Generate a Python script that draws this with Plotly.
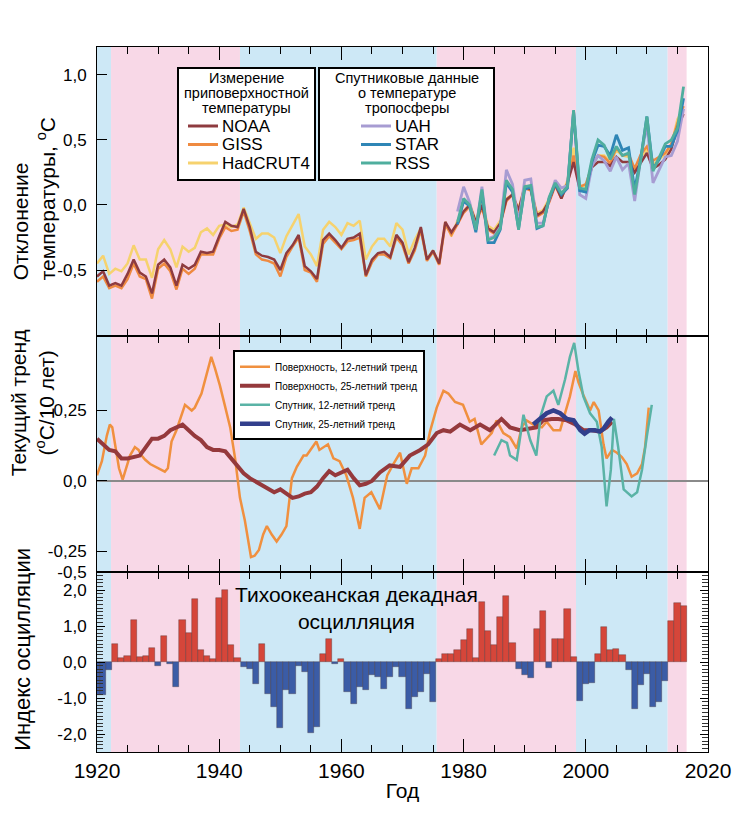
import plotly.graph_objects as go
from plotly.subplots import make_subplots

# ---------------- data ----------------
years = list(range(1920, 2017))
noaa = [-0.55, -0.51, -0.62, -0.60, -0.62, -0.53, -0.42, -0.52, -0.55, -0.68,
        -0.46, -0.42, -0.48, -0.62, -0.46, -0.49, -0.46, -0.36, -0.37, -0.36,
        -0.24, -0.13, -0.16, -0.17, -0.03, -0.17, -0.36, -0.39, -0.40, -0.42,
        -0.50, -0.37, -0.31, -0.23, -0.47, -0.51, -0.57, -0.27, -0.22, -0.27,
        -0.33, -0.26, -0.25, -0.22, -0.54, -0.42, -0.37, -0.36, -0.40, -0.23,
        -0.29, -0.44, -0.33, -0.17, -0.42, -0.35, -0.45, -0.13, -0.21, -0.14,
        -0.05, 0.00, -0.13, 0.00, -0.18, -0.21, -0.14, 0.04, 0.08, -0.04,
        0.14, 0.12, -0.08, -0.05, 0.03, 0.16, 0.05, 0.17, 0.33, 0.12,
        0.12, 0.29, 0.33, 0.33, 0.30, 0.37, 0.33, 0.33, 0.25, 0.33,
        0.40, 0.28, 0.31, 0.35, 0.43, 0.60, 0.70]
giss = [-0.59, -0.55, -0.64, -0.62, -0.64, -0.57, -0.45, -0.55, -0.57, -0.72,
        -0.49, -0.45, -0.51, -0.65, -0.49, -0.53, -0.49, -0.38, -0.38, -0.38,
        -0.26, -0.17, -0.20, -0.19, -0.05, -0.20, -0.38, -0.42, -0.43, -0.45,
        -0.55, -0.40, -0.32, -0.25, -0.50, -0.52, -0.59, -0.30, -0.24, -0.29,
        -0.34, -0.28, -0.27, -0.25, -0.55, -0.44, -0.38, -0.38, -0.41, -0.25,
        -0.31, -0.45, -0.35, -0.19, -0.43, -0.36, -0.46, -0.15, -0.23, -0.15,
        -0.06, -0.01, -0.14, -0.02, -0.19, -0.22, -0.15, 0.03, 0.08, -0.06,
        0.13, 0.11, -0.09, -0.06, 0.02, 0.15, 0.05, 0.16, 0.38, 0.14,
        0.16, 0.30, 0.38, 0.37, 0.32, 0.44, 0.38, 0.39, 0.28, 0.39,
        0.45, 0.34, 0.37, 0.40, 0.47, 0.63, 0.76]
hadcrut4 = [-0.45, -0.39, -0.53, -0.49, -0.51, -0.45, -0.31, -0.42, -0.42, -0.56,
            -0.34, -0.27, -0.34, -0.48, -0.32, -0.36, -0.33, -0.21, -0.18, -0.23,
            -0.16, -0.15, -0.17, -0.15, -0.02, -0.14, -0.26, -0.22, -0.22, -0.25,
            -0.37, -0.24, -0.15, -0.07, -0.32, -0.38, -0.47, -0.19, -0.13, -0.17,
            -0.23, -0.14, -0.16, -0.12, -0.42, -0.32, -0.26, -0.26, -0.32, -0.14,
            -0.19, -0.38, -0.27, -0.18, -0.42, -0.35, -0.45, -0.13, -0.24, -0.12,
            -0.05, 0.01, -0.12, 0.02, -0.16, -0.19, -0.12, 0.05, 0.08, -0.03,
            0.15, 0.13, -0.06, -0.04, 0.05, 0.18, 0.06, 0.19, 0.44, 0.15,
            0.14, 0.31, 0.38, 0.38, 0.33, 0.42, 0.38, 0.37, 0.27, 0.37,
            0.43, 0.31, 0.35, 0.39, 0.46, 0.66, 0.74]

sat_years = list(range(1979, 2017))
uah = [-0.05, 0.14, 0.02, -0.19, 0.14, -0.26, -0.24, -0.17, 0.27, 0.16,
       -0.14, 0.19, 0.20, -0.14, -0.14, 0.04, 0.19, 0.13, 0.15, 0.72,
       0.08, 0.05, 0.30, 0.38, 0.34, 0.26, 0.37, 0.27, 0.32, 0.03,
       0.36, 0.62, 0.17, 0.27, 0.37, 0.38, 0.49, 0.74]
star = [-0.15, 0.03, -0.01, -0.21, 0.10, -0.29, -0.29, -0.19, 0.17, 0.10,
        -0.18, 0.12, 0.14, -0.18, -0.16, 0.05, 0.16, 0.08, 0.13, 0.72,
        0.11, 0.10, 0.33, 0.46, 0.45, 0.38, 0.54, 0.42, 0.44, 0.12,
        0.36, 0.68, 0.28, 0.35, 0.45, 0.45, 0.57, 0.82]
rss = [-0.13, 0.05, 0.00, -0.19, 0.12, -0.27, -0.25, -0.18, 0.19, 0.12,
       -0.19, 0.14, 0.15, -0.17, -0.16, 0.06, 0.17, 0.09, 0.14, 0.73,
       0.13, 0.12, 0.35, 0.50, 0.46, 0.35, 0.45, 0.38, 0.40, 0.08,
       0.35, 0.68, 0.26, 0.36, 0.47, 0.50, 0.59, 0.91]

# running trends (deg C / decade)
surf12_x = [1920.0, 1920.8, 1921.6, 1922.1, 1922.5, 1923.0, 1923.6, 1924.2, 1924.9, 1925.4,
            1926.2, 1926.8, 1927.3, 1927.9, 1928.7, 1929.5, 1930.3, 1931.1, 1931.6, 1932.2,
            1933.0, 1933.6, 1934.4, 1935.5, 1936.0, 1937.1, 1937.9, 1938.7, 1939.3, 1940.1,
            1940.9, 1941.8, 1942.6, 1943.4, 1944.2, 1945.2, 1945.8, 1946.5, 1947.2, 1947.8,
            1948.6, 1949.4, 1950.2, 1951.0, 1951.9, 1952.7, 1953.8, 1954.3, 1955.9, 1956.4,
            1957.8, 1958.7, 1959.7, 1960.8, 1961.9, 1963.0, 1963.8, 1964.9, 1966.3, 1967.5,
            1968.5, 1969.6, 1970.7, 1971.5, 1972.6, 1973.7, 1974.5, 1975.6, 1976.7, 1977.5,
            1978.6, 1979.9, 1981.0, 1981.8, 1982.9, 1983.7, 1984.6, 1985.4, 1986.5, 1987.6,
            1988.7, 1989.5, 1990.3, 1991.4, 1992.8, 1993.6, 1994.7, 1995.8, 1996.6, 1997.4,
            1998.3, 1998.8, 1999.6, 2000.7, 2001.3, 2002.1, 2002.9, 2003.4, 2004.3, 2005.1,
            2005.9, 2006.7, 2007.5, 2008.4, 2009.2, 2009.7, 2010.3]
surf12_y = [0.02, 0.07, 0.16, 0.20, 0.19, 0.13, 0.045, 0.005, 0.05, 0.09,
            0.12, 0.11, 0.09, 0.075, 0.06, 0.05, 0.04, 0.033, 0.045, 0.14,
            0.18, 0.22, 0.27, 0.25, 0.26, 0.31, 0.375, 0.44, 0.40, 0.34,
            0.27, 0.19, 0.08, -0.06, -0.14, -0.27, -0.265, -0.245, -0.19, -0.16,
            -0.19, -0.215, -0.19, -0.16, 0.01, 0.05, 0.09, 0.09, 0.14, 0.11,
            0.13, 0.08, 0.07, 0.02, -0.06, -0.17, -0.06, -0.04, -0.10, 0.02,
            0.06, 0.10, -0.01, 0.045, 0.045, 0.09, 0.175, 0.26, 0.32, 0.31,
            0.28, 0.27, 0.21, 0.22, 0.13, 0.15, 0.17, 0.215, 0.17, 0.155,
            0.115, 0.19, 0.215, 0.20, 0.19, 0.21, 0.18, 0.18, 0.24, 0.30,
            0.39, 0.35, 0.305, 0.25, 0.28, 0.25, 0.13, 0.08, 0.11, 0.10,
            0.085, 0.06, 0.015, 0.027, 0.06, 0.12, 0.26]
surf25_x = [1920, 1921, 1922, 1923, 1924, 1925, 1926, 1927, 1928, 1929,
            1930, 1931, 1932, 1933, 1934, 1935, 1936, 1937, 1938, 1939,
            1940, 1941, 1942, 1943, 1944, 1945, 1946, 1947, 1948, 1949,
            1950, 1951, 1952, 1953, 1954, 1955, 1956, 1957, 1958, 1959,
            1960, 1961, 1962, 1963, 1964, 1965, 1966.3, 1967.9, 1969.6, 1971.2,
            1972.9, 1974.2, 1975.6, 1976.7, 1977.8, 1979.4, 1981.1, 1982.7, 1984.3, 1986.2,
            1987.6, 1989.2, 1990.6, 1991.9, 1993.0, 1994.4, 1995.5, 1996.9, 1998.3, 1999.6,
            2001.0, 2002.3, 2003.4, 2004.3]
surf25_y = [0.15, 0.13, 0.11, 0.105, 0.08, 0.08, 0.086, 0.09, 0.12, 0.15,
            0.15, 0.16, 0.18, 0.19, 0.20, 0.18, 0.16, 0.145, 0.12, 0.11,
            0.11, 0.105, 0.08, 0.05, 0.027, 0.01, -0.002, -0.015, -0.03, -0.04,
            -0.03, -0.045, -0.06, -0.055, -0.045, -0.04, -0.02, 0.01, 0.035, 0.02,
            0.03, 0.04, 0.01, -0.015, -0.01, 0.0, 0.03, 0.055, 0.05, 0.09,
            0.11, 0.13, 0.17, 0.18, 0.175, 0.20, 0.18, 0.20, 0.18, 0.22,
            0.19, 0.18, 0.185, 0.19, 0.215, 0.22, 0.22, 0.215, 0.20, 0.18,
            0.18, 0.175, 0.19, 0.21]
sat12_x = [1985.0, 1986.2, 1987.1, 1987.6, 1988.7, 1989.8, 1990.9, 1991.9, 1992.6, 1993.6,
           1994.7, 1995.5, 1996.6, 1997.4, 1998.1, 1998.8, 1999.6, 2000.7, 2001.8, 2002.6,
           2003.4, 2004.1, 2004.6, 2005.3, 2006.2, 2007.5, 2008.4, 2009.2, 2010.0, 2010.8]
sat12_y = [0.09, 0.145, 0.135, 0.09, 0.075, 0.235, 0.145, 0.09, 0.23, 0.30,
           0.32, 0.27, 0.36, 0.44, 0.49, 0.39, 0.30, 0.24, 0.21, 0.12,
           -0.09, 0.04, 0.22, 0.12, -0.03, -0.055, -0.04, 0.04, 0.16, 0.27]
sat25_x = [1991.4, 1992.6, 1993.6, 1994.7, 1995.8, 1996.9, 1998.0, 1999.1, 1999.8, 2000.6,
           2001.5, 2002.3, 2002.9, 2003.7, 2004.3]
sat25_y = [0.20, 0.22, 0.24, 0.25, 0.24, 0.22, 0.215, 0.18, 0.168, 0.18,
           0.18, 0.175, 0.185, 0.21, 0.225]

# Pacific Decadal Oscillation index
pdo_years = list(range(1920, 2017))
pdo = [-0.93, -0.93, -0.21, 0.49, 0.12, 0.17, 1.16, 0.15, 0.16, 0.40,
       -0.12, 0.73, -0.05, -0.70, 1.18, 0.81, 1.74, 0.33, 0.16, 0.07,
       1.77, 2.00, 0.46, 0.12, -0.14, -0.19, -0.60, 0.49, -0.88, -1.24,
       -1.83, -0.79, -0.88, -0.12, -0.28, -1.98, -1.81, 0.23, 0.65, -0.05,
       0.07, -0.84, -1.18, -0.70, -0.77, -0.35, -0.42, -0.74, -0.42, -0.14,
       -0.42, -1.30, -0.96, -0.84, -0.33, -1.12, 0.07, 0.23, 0.23, 0.34,
       0.60, 0.93, 0.12, 1.66, 0.86, 0.47, 1.24, 1.83, 0.54, -0.19,
       -0.37, -0.44, 0.93, 1.42, -0.16, 0.65, 0.65, 1.46, 0.14, -1.09,
       -0.60, -0.59, 0.21, 0.96, 0.34, 0.37, 0.19, -0.21, -1.30, -0.65,
       -0.33, -1.24, -1.12, -0.53, 1.13, 1.63, 1.55]

# PDO phase boundaries (years) and phase of each interval
phase_edges = [1920, 1922.3, 1943.4, 1975.6, 1998.4, 2013.4, 2016.5]
phase_kind = ["cool", "warm", "cool", "warm", "cool", "warm"]

x_ticks = [1920, 1940, 1960, 1980, 2000, 2020]

# legend texts for the two boxed legends of the top panel
surf_title = ["Измерение", "приповерхностной", "температуры"]
sat_title = ["Спутниковые данные", "о температуре", "тропосферы"]

# ---------------- styling ----------------
FONT = "Liberation Sans, Arial, sans-serif"
PINK = "#f8d8e7"
BLUE = "#cde8f6"
C_NOAA, C_GISS, C_HAD = "#8e3b3f", "#ef8a40", "#f6d26e"
C_UAH, C_STAR, C_RSS = "#a79cd2", "#2f86b6", "#4fae9e"
C_S12, C_S25, C_T12, C_T25 = "#f0903f", "#95393c", "#5ab3a6", "#323f8c"

fig = make_subplots(rows=3, cols=1, shared_xaxes=True, vertical_spacing=0,
                    row_heights=[0.41, 0.3347, 0.2553])

def line(x, y, name, color, width, row, legend=None):
    fig.add_trace(go.Scatter(x=x, y=y, name=name, mode="lines",
                             line=dict(color=color, width=width),
                             showlegend=legend is not None,
                             legend=legend or "legend"), row=row, col=1)

top_series = [("HadCRUT4", years, hadcrut4, C_HAD, 2.5),
              ("GISS", years, giss, C_GISS, 2.5),
              ("NOAA", years, noaa, C_NOAA, 2.5),
              ("UAH", sat_years, uah, C_UAH, 2.8),
              ("STAR", sat_years, star, C_STAR, 2.8),
              ("RSS", sat_years, rss, C_RSS, 2.8)]
for name, x, y, c, w in top_series:
    line(x, y, name, c, w, 1)

line(surf12_x, surf12_y, "Поверхность, 12-летний тренд", C_S12, 2.5, 2, "legend")
line(surf25_x, surf25_y, "Поверхность, 25-летний тренд", C_S25, 4, 2, "legend")
line(sat12_x, sat12_y, "Спутник, 12-летний тренд", C_T12, 2.5, 2, "legend")
line(sat25_x, sat25_y, "Спутник, 25-летний тренд", C_T25, 4.5, 2, "legend")

bar_colors = ["#d5463a" if v >= 0 else "#3b5ca6" for v in pdo]
fig.add_trace(go.Bar(x=pdo_years, y=pdo, width=1, marker=dict(color=bar_colors,
                     line=dict(color="rgba(60,40,40,0.55)", width=0.6)),
                     showlegend=False), row=3, col=1)

# background phase bands
for i, kind in enumerate(phase_kind):
    fig.add_shape(type="rect", xref="x", yref="paper",
                  x0=phase_edges[i], x1=phase_edges[i + 1], y0=0, y1=1,
                  fillcolor=PINK if kind == "warm" else BLUE,
                  line=dict(width=0), layer="below")

# ---- boxed legends of the top panel (layout decoration in paper coords) ----
def P(px, py):
    """pixel position inside the 747x817 picture -> paper coordinates"""
    return (px - 97) / 611, (752 - py) / 705

def legend_box(x0, x1, title_lines, title_cx, entries, sample_x0):
    bx0, by1 = P(x0, 68)
    bx1, by0 = P(x1, 180)
    fig.add_shape(type="rect", xref="paper", yref="paper", x0=bx0, x1=bx1,
                  y0=by0, y1=by1, fillcolor="white",
                  line=dict(color="black", width=2), layer="above")
    for k, txt in enumerate(title_lines):
        tx, ty = P(title_cx, 77.5 + 15.5 * k)
        fig.add_annotation(text=txt, x=tx, y=ty, xref="paper", yref="paper",
                           showarrow=False, xanchor="center", yanchor="middle",
                           borderpad=0,
                           font=dict(family=FONT, size=14.5, color="black"))
    for k, (name, color) in enumerate(entries):
        py = 126 + 18.5 * k
        lx0, ly = P(sample_x0, py)
        lx1, _ = P(sample_x0 + 30, py)
        fig.add_shape(type="line", xref="paper", yref="paper", x0=lx0, x1=lx1,
                      y0=ly, y1=ly, line=dict(color=color, width=3), layer="above")
        tx, _ = P(sample_x0 + 33, py)
        fig.add_annotation(text=name, x=tx, y=ly, xref="paper", yref="paper",
                           showarrow=False, xanchor="left", yanchor="middle",
                           borderpad=0,
                           font=dict(family=FONT, size=17, color="black"))

legend_box(178, 315, surf_title, 246.5,
           [("NOAA", C_NOAA), ("GISS", C_GISS), ("HadCRUT4", C_HAD)], 188)
legend_box(319, 494, sat_title, 406.5,
           [("UAH", C_UAH), ("STAR", C_STAR), ("RSS", C_RSS)], 361)

xcommon = dict(range=[1920, 2020], showgrid=False, zeroline=False,
               showline=True, linecolor="black", linewidth=1, mirror="allticks",
               ticks="inside", tickvals=x_ticks, ticklen=13, tickwidth=1.2, tickcolor="black",
               minor=dict(dtick=5, tick0=1920, ticks="inside", ticklen=7,
                          tickcolor="black", tickwidth=1),
               tickfont=dict(family=FONT, size=21, color="black"))
fig.update_xaxes(**xcommon)
fig.update_xaxes(showticklabels=False, row=1, col=1)
fig.update_xaxes(showticklabels=False, row=2, col=1)
fig.update_xaxes(ticktext=[str(t) for t in x_ticks], row=3, col=1,
                 title=dict(text="Год", font=dict(family=FONT, size=21, color="black"),
                            standoff=2))

ycommon = dict(showgrid=False, showline=True, linecolor="black", linewidth=1,
               mirror=True, ticks="inside", ticklen=10, tickcolor="black",
               ticklabelstandoff=6,
               tickfont=dict(family=FONT, size=17, color="black"))
fig.update_yaxes(**ycommon)
fig.update_yaxes(range=[-1.008, 1.215], tickvals=[-0.5, 0, 0.5, 1.0],
                 ticktext=["-0,5", "0,0", "0,5", "1,0"], zeroline=False, row=1, col=1)
fig.update_yaxes(range=[-0.323, 0.514], tickvals=[-0.322, -0.25, 0, 0.25],
                 ticktext=["-0,5", "-0,25", "0,0", "0,25"],
                 zeroline=True, zerolinecolor="#8a8a8a", zerolinewidth=2, row=2, col=1)
fig.update_yaxes(range=[-2.5, 2.5], tickvals=[-2, -1, 0, 1, 2],
                 ticktext=["-2,0", "-1,0", "0,0", "1,0", "2,0"], zeroline=False,
                 mirror="allticks", ticklen=8,
                 minor=dict(dtick=0.1, ticks="inside", ticklen=6, tickcolor="#333", tickwidth=1),
                 row=3, col=1)

# the page body adds an 8px offset, so the figure is sized to fit the window
fig.update_layout(
    width=739, height=809,
    margin=dict(l=89, r=39, t=39, b=65),
    paper_bgcolor="white", plot_bgcolor="white",
    bargap=0, showlegend=True,
    font=dict(family=FONT, color="black"),
    legend=dict(x=0.2226, y=0.570, font=dict(family=FONT, size=10),
                bgcolor="white", bordercolor="black", borderwidth=2,
                xanchor="left", yanchor="top", tracegroupgap=0, itemwidth=30),
)

annots = [
    dict(text="Отклонение<br>температуры, <sup>o</sup>C", x=-0.103, y=0.784,
         align="left", size=21),
    dict(text="Текущий тренд<br>(<sup>o</sup>C/10 лет)", x=-0.106, y=0.495,
         align="center", size=21),
    dict(text="Индекс осцилляции", x=-0.121, y=0.145, align="center", size=22),
]
for a in annots:
    fig.add_annotation(text=a["text"], x=a["x"], y=a["y"], xref="paper", yref="paper",
                       textangle=-90, showarrow=False, align=a["align"],
                       xanchor="center", yanchor="middle",
                       font=dict(family=FONT, size=a["size"], color="black"))

fig.add_annotation(text="Тихоокеанская декадная<br>осцилляция", x=0.4255, y=0.2425,
                   xref="paper", yref="paper", showarrow=False, xanchor="center",
                   yanchor="top", align="center",
                   font=dict(family=FONT, size=21, color="black"))

fig.write_html("out.html")
